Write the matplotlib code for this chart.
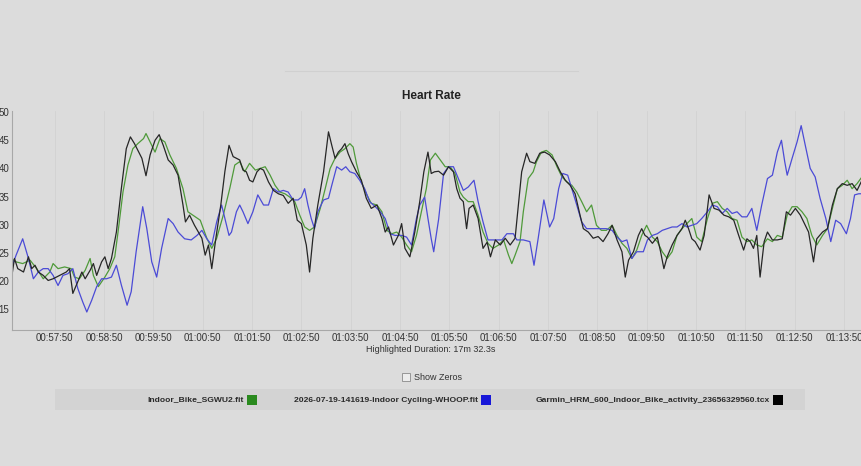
import matplotlib.pyplot as plt
from matplotlib.patches import Rectangle
from matplotlib.lines import Line2D
from matplotlib.ticker import FuncFormatter

plt.rcParams['font.family'] = ['Liberation Sans', 'DejaVu Sans']

# ===============================
# DATA (time in seconds of the clock, heart rate as shown on the axis)
# ===============================
t_sgwu2 = [3417, 3423, 3431, 3440, 3448, 3456, 3464, 3468, 3474, 3482, 3490, 3494, 3500, 3507,
           3513, 3517, 3523, 3531, 3537, 3543, 3547, 3553, 3559, 3565, 3571, 3578, 3581, 3586,
           3592, 3598, 3604, 3610, 3618, 3626, 3632, 3638, 3647, 3655, 3661, 3667, 3675, 3683,
           3689, 3695, 3701, 3707, 3714, 3720, 3726, 3732, 3738, 3744, 3750, 3756, 3762, 3768,
           3774, 3780, 3786, 3793, 3799, 3805, 3811, 3817, 3823, 3829, 3833, 3837, 3843, 3849,
           3855, 3862, 3868, 3874, 3880, 3886, 3892, 3898, 3904, 3910, 3916, 3922, 3927, 3933,
           3939, 3945, 3951, 3957, 3963, 3967, 3973, 3979, 3985, 3991, 3997, 4003, 4010, 4016,
           4022, 4026, 4030, 4036, 4040, 4046, 4052, 4056, 4062, 4068, 4075, 4081, 4087, 4093,
           4099, 4105, 4111, 4117, 4123, 4129, 4135, 4141, 4148, 4154, 4160, 4166, 4172, 4178,
           4184, 4190, 4197, 4203, 4209, 4215, 4221, 4227, 4233, 4239, 4245, 4251, 4257, 4264,
           4270, 4276, 4282, 4288, 4294, 4300, 4306, 4312, 4318, 4324, 4330, 4337, 4343, 4349,
           4355, 4361, 4367, 4373, 4379, 4385, 4391, 4397, 4404, 4410, 4416, 4422, 4428, 4434,
           4440, 4446, 4452]
hr_sgwu2 = [24.0, 23.4, 23.1, 23.7, 22.2, 20.4, 21.6, 23.1, 22.2, 22.5, 22.2, 20.7, 20.4, 21.9,
            24.0, 21.0, 19.0, 20.7, 22.2, 24.3, 28.7, 35.8, 40.6, 43.5, 44.4, 45.3, 46.2, 44.7,
            42.9, 45.3, 44.7, 42.4, 40.0, 36.4, 32.3, 31.7, 30.8, 27.6, 25.8, 27.6, 31.7, 36.5,
            40.6, 41.2, 39.4, 40.9, 39.7, 40.0, 40.3, 38.8, 37.0, 35.8, 35.5, 34.9, 34.1, 31.7,
            29.6, 29.0, 29.6, 32.9, 36.4, 40.0, 41.8, 42.9, 43.5, 44.4, 43.8, 40.9, 37.6, 35.5,
            33.8, 33.5, 32.3, 29.0, 28.4, 28.7, 27.8, 26.4, 25.2, 28.1, 32.3, 36.4, 41.5, 42.7,
            41.5, 40.3, 40.3, 39.1, 35.8, 34.9, 34.1, 34.1, 31.7, 28.7, 26.7, 25.8, 26.4, 27.3,
            24.6, 23.1, 24.6, 27.0, 32.3, 38.2, 39.4, 41.2, 42.9, 43.2, 42.4, 40.3, 38.5, 37.6,
            37.0, 35.8, 34.1, 32.3, 33.5, 29.9, 29.0, 29.0, 29.9, 28.1, 26.7, 25.8, 24.0, 25.5,
            28.1, 29.9, 27.8, 27.0, 25.2, 24.0, 25.2, 28.1, 29.3, 30.2, 31.1, 27.8, 27.0, 31.1,
            33.8, 34.1, 32.9, 32.3, 31.1, 30.8, 27.8, 27.0, 27.3, 26.4, 26.1, 27.5, 27.0, 28.1,
            27.8, 31.7, 33.2, 33.2, 32.3, 31.1, 28.1, 26.4, 28.1, 29.3, 32.9, 36.4, 37.0, 37.9,
            36.4, 37.3, 38.5]

t_whoop = [3417, 3423, 3431, 3438, 3444, 3450, 3456, 3462, 3468, 3474, 3480, 3486, 3492, 3498,
           3504, 3509, 3515, 3521, 3527, 3533, 3539, 3545, 3551, 3558, 3563, 3569, 3577, 3582,
           3588, 3594, 3600, 3608, 3614, 3620, 3628, 3636, 3643, 3649, 3655, 3661, 3667, 3673,
           3678, 3682, 3685, 3691, 3695, 3699, 3705, 3711, 3717, 3724, 3730, 3736, 3742, 3748,
           3754, 3760, 3766, 3770, 3774, 3778, 3782, 3786, 3790, 3797, 3803, 3807, 3813, 3819,
           3824, 3829, 3835, 3841, 3847, 3853, 3860, 3866, 3872, 3878, 3884, 3892, 3898, 3904,
           3910, 3914, 3920, 3924, 3928, 3931, 3937, 3943, 3949, 3955, 3961, 3967, 3973, 3980,
           3985, 3991, 3997, 4006, 4014, 4020, 4028, 4032, 4040, 4048, 4053, 4058, 4065, 4072,
           4077, 4083, 4088, 4094, 4099, 4105, 4111, 4117, 4125, 4133, 4141, 4148, 4154, 4160,
           4166, 4172, 4178, 4186, 4191, 4197, 4203, 4209, 4215, 4221, 4227, 4233, 4239, 4245,
           4251, 4257, 4264, 4270, 4276, 4282, 4288, 4294, 4300, 4306, 4312, 4318, 4324, 4330,
           4337, 4343, 4349, 4354, 4358, 4361, 4367, 4373, 4378, 4383, 4389, 4395, 4401, 4408,
           4414, 4420, 4426, 4433, 4438, 4443, 4448, 4452]
hr_whoop = [22.2, 24.6, 27.5, 24.0, 20.4, 21.6, 22.2, 22.2, 21.0, 19.2, 21.0, 21.3, 22.2, 18.7,
            16.3, 14.5, 16.6, 19.0, 20.4, 20.4, 20.7, 22.8, 19.3, 15.7, 18.1, 25.2, 33.2, 29.3,
            23.4, 20.7, 25.8, 31.1, 30.2, 28.7, 27.5, 27.3, 28.1, 29.0, 27.5, 26.4, 30.5, 33.5,
            30.5, 28.1, 28.7, 32.3, 33.5, 32.3, 30.2, 32.3, 35.3, 33.5, 33.5, 36.4, 35.8, 36.1,
            35.8, 34.4, 34.4, 34.9, 36.4, 33.5, 31.1, 29.3, 32.3, 34.4, 34.7, 37.0, 40.3, 39.7,
            40.3, 39.4, 39.1, 37.9, 36.4, 34.1, 33.2, 32.3, 31.1, 28.4, 28.1, 28.1, 27.8, 26.4,
            31.1, 33.5, 34.9, 31.1, 27.5, 25.2, 31.0, 39.1, 40.3, 40.3, 38.2, 36.1, 36.7, 37.9,
            34.1, 30.5, 27.3, 27.3, 27.3, 28.4, 28.4, 27.3, 27.3, 27.0, 22.8, 27.5, 34.4, 29.6,
            31.1, 36.4, 39.1, 38.8, 36.4, 33.5, 30.5, 29.3, 29.3, 29.3, 29.3, 29.0, 27.8, 27.0,
            27.3, 24.0, 25.2, 25.2, 27.3, 28.1, 28.4, 29.0, 29.3, 29.6, 29.6, 30.2, 29.6, 29.9,
            30.2, 31.1, 32.3, 33.5, 33.2, 32.0, 32.9, 32.0, 32.3, 31.4, 31.4, 32.9, 29.0, 33.5,
            38.2, 38.8, 42.9, 45.0, 41.2, 38.8, 41.8, 44.7, 47.6, 44.1, 40.0, 38.5, 34.7, 31.1,
            27.0, 30.8, 30.2, 28.4, 31.1, 35.3, 35.5, 35.5]

t_garmin = [3417, 3421, 3425, 3432, 3438, 3442, 3446, 3450, 3456, 3462, 3468, 3476, 3484, 3488,
            3492, 3496, 3503, 3507, 3513, 3517, 3521, 3527, 3531, 3535, 3539, 3545, 3551, 3557,
            3562, 3567, 3576, 3581, 3586, 3592, 3597, 3602, 3608, 3614, 3620, 3626, 3629, 3634,
            3640, 3649, 3653, 3657, 3661, 3666, 3672, 3677, 3682, 3687, 3691, 3695, 3699, 3703,
            3707, 3711, 3716, 3720, 3724, 3730, 3736, 3742, 3748, 3754, 3760, 3765, 3770, 3776,
            3780, 3784, 3790, 3797, 3803, 3807, 3811, 3815, 3819, 3823, 3827, 3831, 3837, 3843,
            3849, 3855, 3862, 3868, 3872, 3876, 3882, 3888, 3892, 3896, 3902, 3908, 3914, 3919,
            3924, 3928, 3932, 3937, 3943, 3949, 3955, 3959, 3963, 3967, 3971, 3974, 3979, 3985,
            3991, 3996, 4000, 4006, 4012, 4018, 4024, 4030, 4034, 4038, 4044, 4048, 4054, 4060,
            4066, 4072, 4079, 4085, 4091, 4097, 4103, 4109, 4113, 4119, 4125, 4131, 4137, 4143,
            4148, 4154, 4160, 4164, 4168, 4174, 4180, 4184, 4188, 4191, 4197, 4203, 4207, 4211,
            4215, 4221, 4227, 4233, 4237, 4241, 4245, 4249, 4255, 4260, 4264, 4266, 4272, 4278,
            4284, 4290, 4296, 4302, 4308, 4312, 4316, 4320, 4324, 4328, 4333, 4337, 4343, 4349,
            4355, 4360, 4365, 4371, 4377, 4383, 4387, 4393, 4397, 4404, 4410, 4416, 4422, 4428,
            4434, 4440, 4446, 4452]
hr_garmin = [20.1, 24.0, 22.2, 21.6, 24.3, 22.2, 22.8, 21.6, 21.0, 20.1, 20.4, 21.0, 21.6, 22.2,
             17.8, 19.2, 21.6, 20.4, 21.9, 23.1, 21.0, 23.4, 24.3, 22.2, 24.0, 28.7, 36.4, 43.5,
             45.6, 44.4, 41.8, 38.7, 42.4, 45.0, 46.0, 44.1, 41.5, 40.6, 38.8, 33.5, 30.5, 31.7,
             29.9, 27.6, 24.6, 26.4, 22.2, 27.6, 33.5, 39.5, 44.1, 42.1, 41.8, 41.5, 39.7, 39.4,
             37.9, 37.6, 39.4, 40.0, 39.7, 37.6, 36.1, 35.5, 35.2, 33.8, 34.7, 30.8, 30.2, 26.4,
             21.6, 27.6, 33.5, 39.4, 46.5, 44.1, 41.8, 42.9, 43.5, 44.4, 42.6, 41.2, 39.4, 37.9,
             34.7, 32.9, 33.5, 31.1, 28.7, 29.6, 26.4, 28.1, 30.2, 25.8, 24.3, 28.7, 34.1, 39.4,
             42.9, 39.1, 39.4, 39.5, 38.8, 40.3, 39.4, 36.4, 34.7, 34.1, 29.3, 32.9, 33.5, 31.1,
             25.8, 26.9, 24.3, 27.3, 26.4, 27.6, 26.4, 27.6, 33.5, 39.4, 42.7, 41.2, 40.9, 42.7,
             42.9, 42.4, 41.2, 39.4, 37.9, 37.0, 35.5, 31.7, 29.3, 28.7, 27.6, 27.9, 27.0, 28.4,
             29.9, 27.3, 25.2, 20.7, 23.7, 25.2, 28.1, 29.3, 28.1, 27.8, 26.7, 27.8, 25.2, 22.2,
             24.3, 26.4, 28.1, 29.3, 30.8, 29.3, 27.5, 27.0, 25.5, 28.1, 32.9, 35.3, 32.9, 32.6,
             31.7, 31.4, 30.8, 28.1, 25.5, 27.5, 27.0, 25.8, 28.1, 20.7, 27.0, 28.7, 27.3, 27.3,
             27.5, 32.3, 31.7, 32.9, 31.7, 29.9, 28.7, 23.4, 27.5, 28.7, 29.3, 33.5, 36.4, 37.3,
             37.0, 37.3, 36.1, 37.9]

y_ticks = [15, 20, 25, 30, 35, 40, 45, 50]
x_ticks = [3470 + 60 * k for k in range(17)]

names = ["Indoor_Bike_SGWU2.fit",
         "2026-07-19-141619-Indoor Cycling-WHOOP.fit",
         "Garmin_HRM_600_Indoor_Bike_activity_23656329560.tcx"]
line_colors = ['#4f9a3a', '#4b4bd6', '#262626']
box_colors = ['#2a8a1e', '#1818d8', '#000000']

# ===============================
# FIGURE
# ===============================
bg = '#dcdcdc'
W, H = 862, 466
fig = plt.figure(figsize=(8.62, 4.66), dpi=100, facecolor=bg)
ax = fig.add_axes([12 / W, 1 - 330 / H, 1 - 12 / W, (330 - 111) / H], facecolor=bg)

ax.plot(t_sgwu2, hr_sgwu2, color=line_colors[0], lw=0.9)
ax.plot(t_whoop, hr_whoop, color=line_colors[1], lw=0.9)
ax.plot(t_garmin, hr_garmin, color=line_colors[2], lw=0.9)

ax.set_xlim(3418, 4452)
ax.set_ylim(11.3, 50.2)
ax.set_xticks(x_ticks)
ax.set_yticks(y_ticks)


def hms(v, pos):
    v = int(round(v))
    return f"{v // 3600:02d}:{(v % 3600) // 60:02d}:{v % 60:02d}"


ax.xaxis.set_major_formatter(FuncFormatter(hms))
ax.tick_params(axis='both', length=0, labelsize=7, labelcolor='#333333')
ax.tick_params(axis='x', pad=2)
ax.tick_params(axis='y', pad=2)
ax.grid(axis='x', color='#d2d2d2', lw=0.6)
ax.set_axisbelow(True)
for s in ['top', 'right']:
    ax.spines[s].set_visible(False)
for s in ['left', 'bottom']:
    ax.spines[s].set_color('#a8a8a8')
    ax.spines[s].set_linewidth(0.8)

# title and texts
fig.text(431 / W, 1 - 96 / H, "Heart Rate", ha='center', va='center',
         fontsize=8.5, fontweight='bold', color='#222222')
fig.add_artist(Line2D([285 / W, 578 / W], [1 - 71 / H, 1 - 71 / H], color='#d0d0d0', lw=0.8))
fig.text(431 / W, 1 - 350 / H, "Highlighted Duration: 17m 32.3s", ha='center', va='center',
         fontsize=6.5, color='#333333')

# show zeros checkbox
fig.add_artist(Rectangle((402 / W, 1 - 381 / H), 8 / W, 8 / H, facecolor='#ececec',
                         edgecolor='#8a8a8a', lw=0.6))
fig.text(414 / W, 1 - 377 / H, "Show Zeros", ha='left', va='center', fontsize=6.5, color='#333333')

# legend band
fig.add_artist(Rectangle((55 / W, 1 - 410 / H), 750 / W, 21 / H, facecolor='#d3d3d3',
                         edgecolor='none'))
box_x = [247, 481, 773]
for name, c, bx in zip(names, box_colors, box_x):
    fig.text((bx - 3) / W, 1 - 400 / H, name, ha='right', va='center', fontsize=6.1,
             fontweight='bold', color='#2a2a2a')
    fig.add_artist(Rectangle((bx / W, 1 - 405 / H), 10 / W, 10 / H, facecolor=c, edgecolor='none'))

fig.savefig('out.png', dpi=100, facecolor=bg)
